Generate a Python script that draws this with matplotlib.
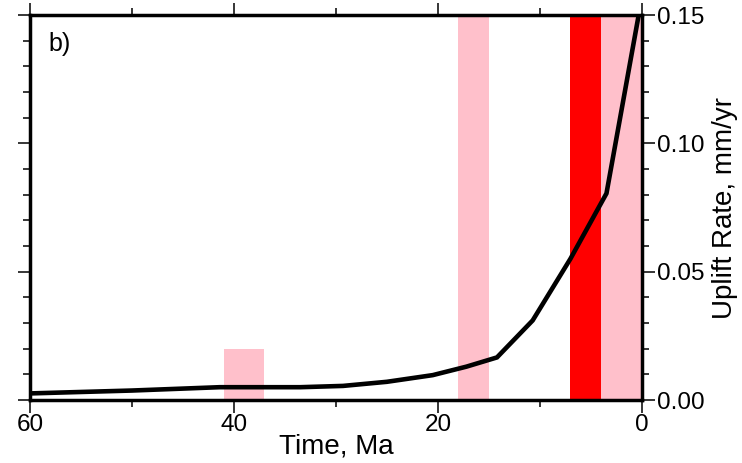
import matplotlib

matplotlib.use("Agg")

import matplotlib.pyplot as plt
from matplotlib.ticker import MultipleLocator

plt.rcParams["font.family"] = ["Liberation Sans", "DejaVu Sans"]

# uplift rate history (Ma, mm/yr)
time_ma = [59.8, 50.0, 41.4, 33.5, 29.3, 25.0, 20.5, 17.2, 14.2, 10.7, 7.0, 3.46, 0.3]
uplift_rate = [0.0026, 0.0037, 0.0050, 0.0050, 0.0055, 0.0071, 0.0097, 0.013, 0.0166,
               0.031, 0.055, 0.0805, 0.150]

# shaded events: (older Ma, younger Ma, top of bar in mm/yr, colour)
band_start = [41.0, 18.0, 7.0, 4.0]
band_end = [37.0, 15.0, 4.0, 0.0]
band_top = [0.02, 0.15, 0.15, 0.15]
band_color = ["pink", "pink", "red", "pink"]

fig = plt.figure(figsize=(7.42, 4.63), dpi=100)
ax = fig.add_axes([0.0404, 0.136, 0.8245, 0.8316])

for x0, x1, top, color in zip(band_start, band_end, band_top, band_color):
    ax.fill_between([x1, x0], 0, top, color=color, linewidth=0, zorder=1)

ax.plot(time_ma, uplift_rate, color="black", linewidth=3.3, solid_joinstyle="miter", zorder=3)

ax.set_xlim(60, 0)
ax.set_ylim(0, 0.15)

ax.xaxis.set_major_locator(MultipleLocator(20))
ax.xaxis.set_minor_locator(MultipleLocator(10))
ax.yaxis.set_major_locator(MultipleLocator(0.05))
ax.yaxis.set_minor_locator(MultipleLocator(0.01))
ax.yaxis.set_major_formatter(lambda v, pos: f"{v:.2f}")

ax.tick_params(axis="both", which="both", direction="out", width=1.1, colors="black")
ax.tick_params(axis="x", which="major", length=9, labelsize=17.5, top=True, bottom=True, pad=1)
ax.tick_params(axis="x", which="minor", length=5, top=True, bottom=True)
ax.tick_params(axis="y", which="major", length=9, labelsize=17.5, left=True, right=True,
               labelleft=False, labelright=True, pad=2)
ax.tick_params(axis="y", which="minor", length=5, left=True, right=True)

for side in ax.spines.values():
    side.set_linewidth(2.5)
    side.set_zorder(4)

ax.set_xlabel("Time, Ma", fontsize=20, labelpad=-2)
ax.yaxis.set_label_position("right")
ax.set_ylabel("Uplift Rate, mm/yr", fontsize=20, labelpad=5)

ax.text(0.03, 0.955, "b)", transform=ax.transAxes, fontsize=18, va="top", ha="left")

fig.savefig("out.png", dpi=100)
